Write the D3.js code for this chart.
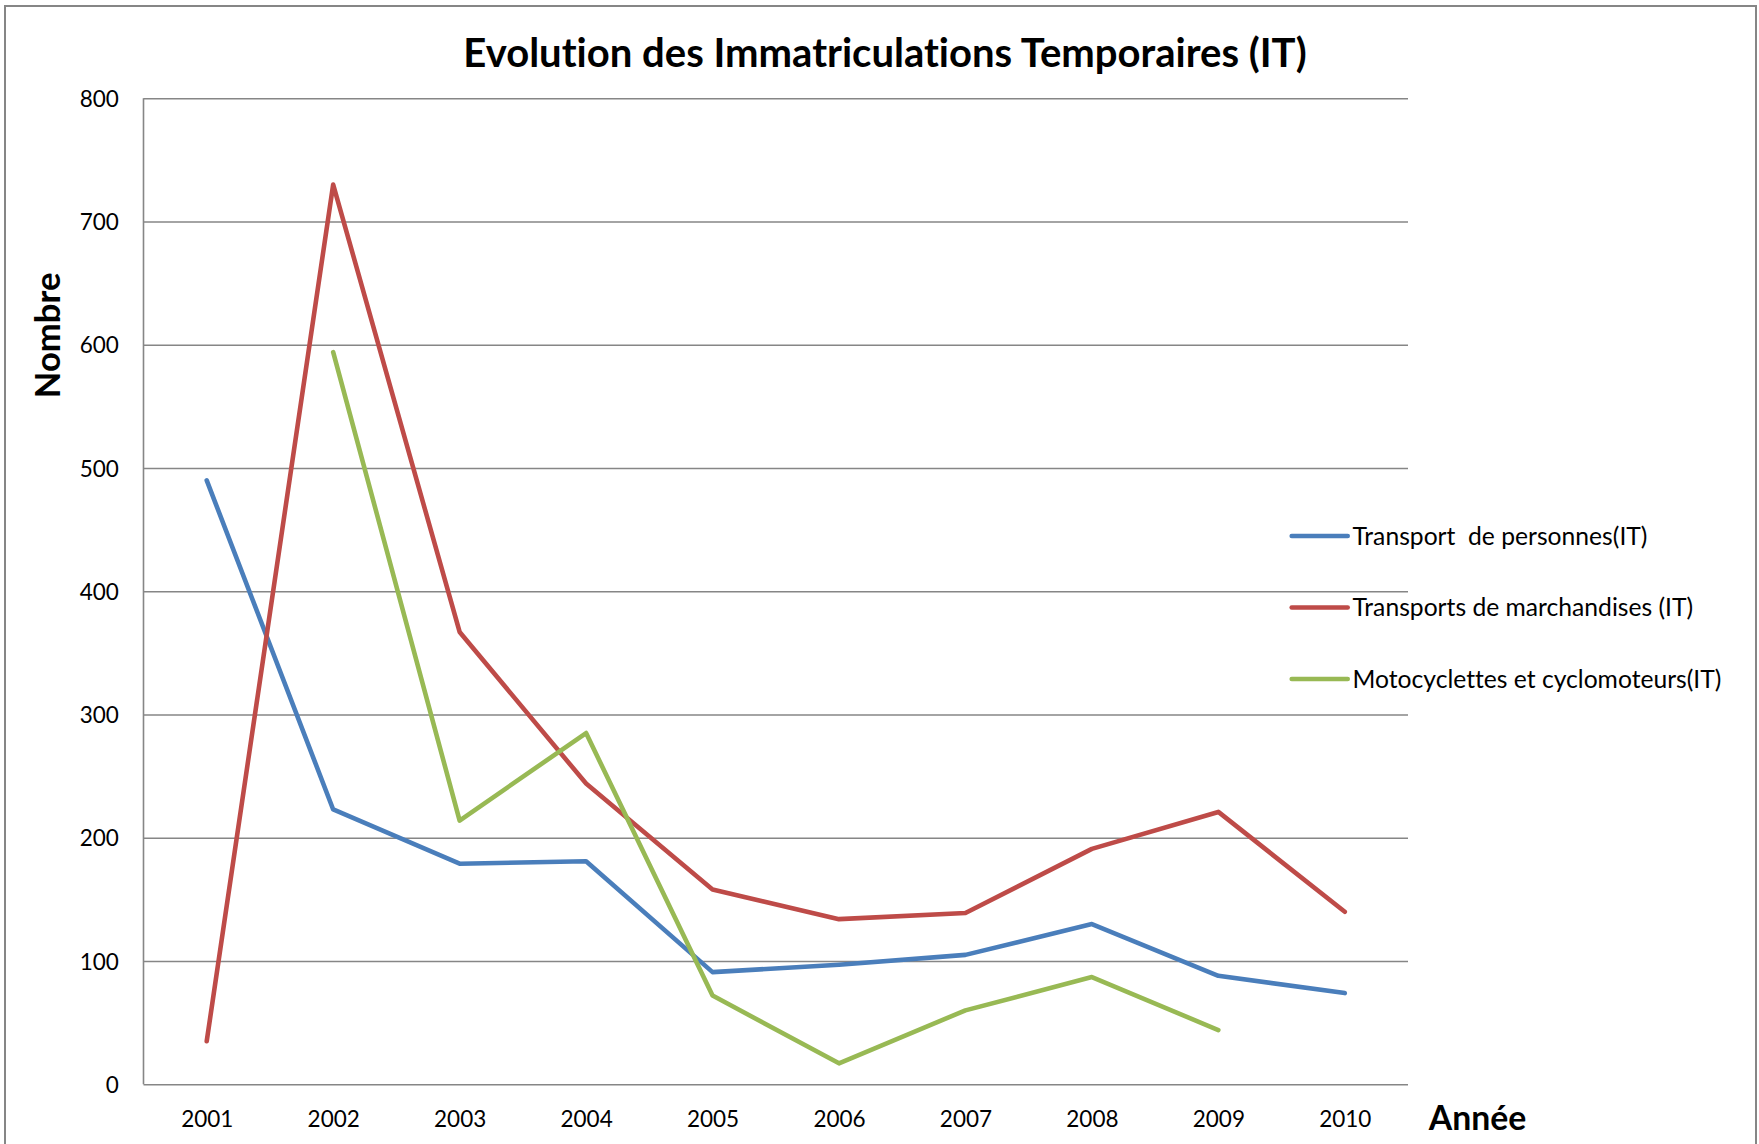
<!DOCTYPE html>
<html><head><meta charset="utf-8">
<script src="https://cdn.jsdelivr.net/npm/d3@7"></script>
<style>html,body{margin:0;padding:0;background:#fff;}svg{display:block;}text{font-variant-ligatures:none;white-space:pre;}</style>
</head><body>
<script>
const years = ["2001","2002","2003","2004","2005","2006","2007","2008","2009","2010"];
const personnes = [490, 223, 179, 181, 91, 97, 105, 130, 88, 74];
const marchandises = [35, 730, 367, 244, 158, 134, 139, 191, 221, 140];
const motos = [null, 594, 214, 285, 72, 17, 60, 87, 44, null];
const seriesNames = ["Transport  de personnes(IT)", "Transports de marchandises (IT)", "Motocyclettes et cyclomoteurs(IT)"];
const seriesColors = ["#4A7EBB", "#BE4B48", "#98B954"];
const yTicks = [0, 100, 200, 300, 400, 500, 600, 700, 800];
const titleText = "Evolution des Immatriculations Temporaires (IT)";
const yTitle = "Nombre";
const xTitle = "Année";

(function () {
const W = 1759, H = 1144;
const pL = 143.5, pR = 1408, pT = 98.3, pB = 1084.3;
const FONT = "Lato, 'Open Sans', sans-serif";

const svg = d3.select("body").append("svg").attr("width", W).attr("height", H);
svg.append("rect").attr("x", 5).attr("y", 6).attr("width", 1751).attr("height", 1160)
  .attr("fill", "#fff").attr("stroke", "#868686").attr("stroke-width", 2);

const x = d3.scalePoint().domain(years).range([pL, pR]).padding(0.5);
const y = d3.scaleLinear().domain([0, 800]).range([pB, pT]);

const yAxis = d3.axisLeft(y).tickValues(yTicks).tickSize(-(pR - pL)).tickPadding(0);
const gy = svg.append("g").attr("transform", `translate(${pL},0)`).call(yAxis);
gy.select(".domain").remove();
gy.selectAll(".tick line").attr("stroke", "#868686").attr("stroke-width", 1.6);
gy.selectAll(".tick text").attr("x", -(pL - 118.8)).attr("dy", "0.36em")
  .attr("font-family", FONT).attr("font-size", 22.5).attr("fill", "#000").attr("text-anchor", "end");
svg.append("line").attr("x1", pL).attr("x2", pL).attr("y1", pT).attr("y2", pB)
  .attr("stroke", "#868686").attr("stroke-width", 1.6);

const xAxis = d3.axisBottom(x).tickSize(0).tickPadding(0);
const gx = svg.append("g").attr("transform", `translate(0,${pB})`).call(xAxis);
gx.select(".domain").remove();
gx.selectAll(".tick text").attr("y", 1127.3 - pB).attr("dy", 0)
  .attr("font-family", FONT).attr("font-size", 22.5).attr("fill", "#000");

const allSeries = [personnes, marchandises, motos];
const line = d3.line().defined(d => d.v != null).x(d => x(d.year)).y(d => y(d.v));
allSeries.forEach((vals, i) => {
  const data = years.map((yr, j) => ({year: yr, v: vals[j]}));
  svg.append("path").datum(data).attr("d", line).attr("fill", "none")
    .attr("stroke", seriesColors[i]).attr("stroke-width", 4.6)
    .attr("stroke-linejoin", "round").attr("stroke-linecap", "round");
});

function fit(sel, target) {
  const w = sel.node().getComputedTextLength();
  const fs = parseFloat(sel.attr("font-size"));
  sel.attr("font-size", fs * target / w);
}

const t = svg.append("text").attr("x", 885).attr("y", 66.7).attr("text-anchor", "middle")
  .attr("font-family", FONT).attr("font-weight", "bold").attr("font-size", 36).attr("fill", "#000").text(titleText);
fit(t, 843.6);

const yt = svg.append("text").attr("transform", "translate(60.3,335.4) rotate(-90)").attr("text-anchor", "middle")
  .attr("font-family", FONT).attr("font-weight", "bold").attr("font-size", 32).attr("fill", "#000").text(yTitle);
fit(yt, 125.6);

const xt = svg.append("text").attr("x", 1428.8).attr("y", 1130).attr("text-anchor", "start")
  .attr("font-family", FONT).attr("font-weight", "bold").attr("font-size", 32).attr("fill", "#000").text(xTitle);
fit(xt, 97.5);

const legY = [536, 607.5, 679];
const leg = svg.append("g");
const texts = [];
seriesNames.forEach((name, i) => {
  leg.append("line").attr("x1", 1291.7).attr("x2", 1347.7).attr("y1", legY[i]).attr("y2", legY[i])
    .attr("stroke", seriesColors[i]).attr("stroke-width", 4.6).attr("stroke-linecap", "round");
  texts.push(leg.append("text").attr("x", 1352.5).attr("y", legY[i] + 8.6)
    .attr("font-family", FONT).attr("font-size", 22).attr("fill", "#000").text(name));
});
const w3 = texts[2].node().getComputedTextLength();
const legFs = 22 * 369 / w3;
texts.forEach(s => s.attr("font-size", legFs));
})();
</script>
</body></html>
